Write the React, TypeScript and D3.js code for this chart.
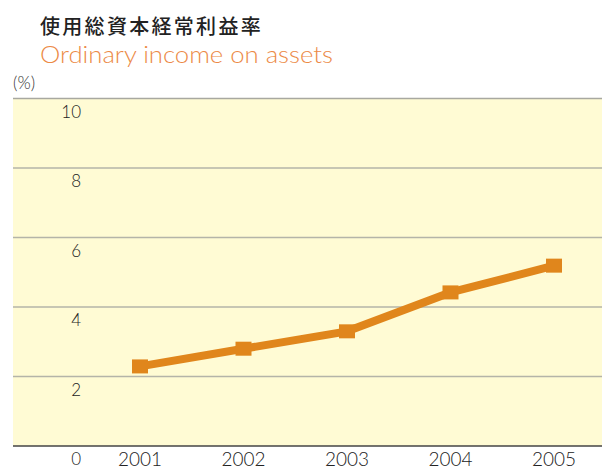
import React from "react";
import * as d3 from "d3";

const years = ["2001", "2002", "2003", "2004", "2005"];
const values = [2.29, 2.8, 3.3, 4.42, 5.19];
const yTicks = [0, 2, 4, 6, 8, 10];
const titleJa = "使用総資本経常利益率";
const titleEn = "Ordinary income on assets";
const unitLabel = "(%)";

export default function App() {
  const W = 602, H = 469;
  const left = 13, right = 602, top = 98.5, bottom = 446;
  const y = d3.scaleLinear().domain([0, 10]).range([bottom, top]);
  const x = d3.scalePoint().domain(years).range([140, 554]);
  const line = d3.line<number>().x((_, i) => x(years[i])!).y((d) => y(d));
  const font = "Lato, 'Open Sans', sans-serif";
  return (
    <svg width={W} height={H} style={{ position: "absolute", left: 0, top: 0, display: "block" }}>
      <rect x={left} y={top} width={right - left} height={bottom - top} fill="#FFFBD4" />
      {yTicks.filter((t) => t > 0).map((t) => (
        <line key={t} x1={left} x2={right} y1={y(t)} y2={y(t)} stroke={t === 10 ? "#A8A8A0" : "#B4B4A8"} strokeWidth={1.5} />
      ))}
      <line x1={left} x2={right} y1={bottom} y2={bottom} stroke="#444" strokeWidth={1.5} />
      {yTicks.map((t) => (
        <text key={t} x={81} y={y(t) + 19} textAnchor="end" fontFamily={font} fontSize={17} fontWeight={300} fill="#222">
          {t}
        </text>
      ))}
      {years.map((yr) => (
        <text key={yr} x={x(yr)!} y={466} textAnchor="middle" fontFamily={font} fontSize={19} fontWeight={300} fill="#222">
          {yr}
        </text>
      ))}
      <path d={line(values)!} fill="none" stroke="#E0861C" strokeWidth={8} />
      {values.map((v, i) => (
        <rect key={i} x={x(years[i])! - 8} y={y(v) - 7} width={16} height={14} fill="#E0861C" />
      ))}
      <text x={40} y={34} fontFamily="'Noto Sans CJK JP', sans-serif" fontSize={20} fontWeight={500} fill="#222" letterSpacing={2.3}>
        {titleJa}
      </text>
      <text x={40} y={63} fontFamily={font} fontSize={24} fontWeight={300} fill="#EC8A46" textLength={293} lengthAdjust="spacingAndGlyphs">
        {titleEn}
      </text>
      <text x={13} y={89} fontFamily={font} fontSize={17} fontWeight={300} fill="#333">
        {unitLabel}
      </text>
    </svg>
  );
}
